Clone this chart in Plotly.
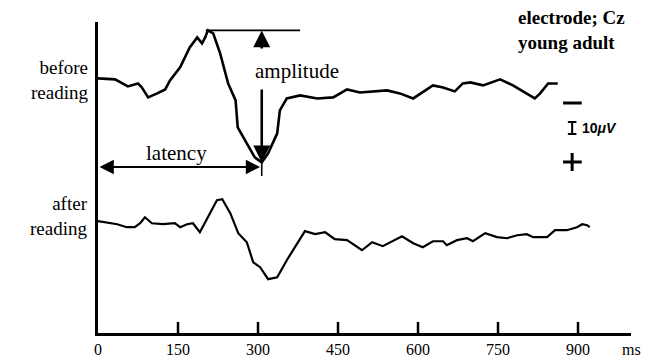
import plotly.graph_objects as go

# ---------------- data ----------------
# time in ms, amplitude in µV (EEG convention: negative plotted upward)
before_ms = [0, 32, 56, 75, 82, 94, 111, 126, 135, 154, 172, 186, 195, 201, 206, 216, 229,
             244, 258, 262, 279, 294, 307, 319, 336, 341, 354, 379, 411, 441, 467, 491, 542,
             566, 591, 628, 647, 669, 684, 698, 722, 754, 778, 804, 819, 829, 844, 862]
before_uv = [0, 0.8, 6.7, 4.2, 7.5, 15.8, 12.5, 9.2, 1.7, -9.2, -25.8, -34.2, -29.2, -34.2, -40, -37.5, -20.8,
             4.2, 18.3, 40.8, 54.2, 65.8, 70, 62.5, 45.8, 26.7, 16.7, 14.2, 16.7, 15.8, 9.2, 11.7, 10,
             12.5, 16.7, 5.8, 7.5, 10.8, 4.2, 3.3, 5.8, 0.8, 5.8, 12.5, 16.7, 12.5, 4.2, 4.2]

after_ms = [0, 23, 36, 54, 69, 79, 88, 101, 122, 144, 154, 167, 178, 191, 206, 223, 233, 248,
            263, 279, 291, 304, 319, 336, 354, 373, 388, 407, 426, 444, 467, 495, 514, 534,
            570, 591, 609, 628, 647, 654, 673, 692, 703, 726, 748, 767, 786, 804, 816, 842,
            857, 879, 898, 908, 917, 922]
after_uv = [0, 1.7, 2.5, 5, 5, 1.7, -3.3, 1.7, 2.5, 1.7, 5, 2.5, 1.7, 9.2, -3.3, -17.5, -18.3, -6.7,
            10, 17.5, 34.2, 38.3, 48.3, 46.7, 32.5, 18.3, 8.3, 10.8, 9.2, 15, 15.8, 24.2, 17.5, 20.8,
            12.5, 18.3, 21.7, 16.7, 16.7, 20, 15.8, 14.2, 16.7, 10, 13.3, 14.2, 11.7, 10.8, 13.3, 13.3,
            7.5, 7.5, 5, 2.5, 3.3, 5]

tick_vals = [0, 150, 300, 450, 600, 750, 900]
tick_text = ["0", "150", "300", "450", "600", "750", "900"]
scale_uv = 10

# ---------------- layout constants ----------------
W, H = 647, 359
ML, MR, MT, MB = 98, 16, 22, 26
PW, PH = W - ML - MR, H - MT - MB
PX_PER_UV = 1.2
Y_SPAN = PH / PX_PER_UV
BEFORE_OFF = 47
AFTER_OFF = 166
SERIF = "Liberation Serif"
TICK_LEN_PX = 11


def uv_at_px(py):
    return (py - MT) / PX_PER_UV


def px2x(px):
    return (px - ML) / PW


def px2y(py):
    return (H - MB - py) / PH


before_y = [BEFORE_OFF + v for v in before_uv]
after_y = [AFTER_OFF + v for v in after_uv]

fig = go.Figure()
fig.add_trace(go.Scatter(x=before_ms, y=before_y, mode="lines",
                         line=dict(color="black", width=2.6), hoverinfo="skip"))
fig.add_trace(go.Scatter(x=after_ms, y=after_y, mode="lines",
                         line=dict(color="black", width=2.2), hoverinfo="skip"))

# peak / trough of the "before" trace
i_peak = before_uv.index(min(before_uv))
i_trough = before_uv.index(max(before_uv))
peak_ms, peak_y = before_ms[i_peak], before_y[i_peak]
trough_ms, trough_y = before_ms[i_trough], before_y[i_trough]

shapes = []
# inward x-axis tick marks
for tv in tick_vals[1:]:
    shapes.append(dict(type="line", xref="x", yref="y", x0=tv, x1=tv,
                       y0=Y_SPAN, y1=Y_SPAN - TICK_LEN_PX / PX_PER_UV,
                       line=dict(color="black", width=2.5), layer="above"))
shapes.append(dict(type="line", xref="x", yref="y", x0=peak_ms - 4, x1=peak_ms + 173,
                   y0=peak_y, y1=peak_y, line=dict(color="black", width=1.6)))
shapes.append(dict(type="line", xref="x", yref="y", x0=trough_ms, x1=trough_ms,
                   y0=trough_y, y1=uv_at_px(176), line=dict(color="black", width=1.6)))
# scale bar (10 µV)
sb_x = 889
sb_y0 = uv_at_px(122)
sb_y1 = sb_y0 + scale_uv
shapes.append(dict(type="line", xref="x", yref="y", x0=sb_x, x1=sb_x, y0=sb_y0, y1=sb_y1,
                   line=dict(color="black", width=2)))
for yy in (sb_y0, sb_y1):
    shapes.append(dict(type="line", xref="x", yref="y", x0=sb_x - 8, x1=sb_x + 8, y0=yy, y1=yy,
                       line=dict(color="black", width=2)))
shapes.append(dict(type="line", xref="x", yref="y", x0=sb_x - 17, x1=sb_x + 18,
                   y0=uv_at_px(103), y1=uv_at_px(103), line=dict(color="black", width=3)))
shapes.append(dict(type="line", xref="x", yref="y", x0=sb_x - 17, x1=sb_x + 18,
                   y0=uv_at_px(162), y1=uv_at_px(162), line=dict(color="black", width=3)))
shapes.append(dict(type="line", xref="x", yref="y", x0=sb_x, x1=sb_x,
                   y0=uv_at_px(153), y1=uv_at_px(171), line=dict(color="black", width=3)))

ann = []
ann.append(dict(x=trough_ms, y=peak_y, ax=trough_ms, ay=uv_at_px(50), xref="x", yref="y",
                axref="x", ayref="y", text="", showarrow=True, arrowhead=2, arrowsize=1.3,
                arrowwidth=2.6, arrowcolor="black", standoff=0))
ann.append(dict(x=trough_ms, y=trough_y, ax=trough_ms, ay=uv_at_px(88), xref="x", yref="y",
                axref="x", ayref="y", text="", showarrow=True, arrowhead=2, arrowsize=1.3,
                arrowwidth=2.6, arrowcolor="black", standoff=0))
lat_y = uv_at_px(167)
ann.append(dict(x=trough_ms - 3, y=lat_y, ax=0, ay=lat_y, xref="x", yref="y",
                axref="x", ayref="y", text="", showarrow=True, arrowhead=2, startarrowhead=2,
                arrowside="end+start", arrowsize=1.3, startarrowsize=1.3,
                arrowwidth=2.2, arrowcolor="black", standoff=0, startstandoff=0))

ann.append(dict(x=px2x(297), y=px2y(71), xref="paper", yref="paper", text="amplitude",
                showarrow=False, xanchor="center", yanchor="middle",
                font=dict(family=SERIF, size=21, color="black")))
ann.append(dict(x=px2x(176), y=px2y(153), xref="paper", yref="paper", text="latency",
                showarrow=False, xanchor="center", yanchor="middle",
                font=dict(family=SERIF, size=21, color="black")))

for txt, py in (("before<br>reading", 80), ("after<br>reading", 216)):
    ann.append(dict(x=px2x(90), y=px2y(py), xref="paper", yref="paper", text=txt,
                    showarrow=False, xanchor="right", yanchor="middle", align="right",
                    font=dict(family=SERIF, size=19, color="black")))

ann.append(dict(x=px2x(516), y=px2y(30), xref="paper", yref="paper",
                text="<b>electrode; Cz<br>young adult</b>", align="left",
                showarrow=False, xanchor="left", yanchor="middle",
                font=dict(family=SERIF, size=19, color="black")))
ann.append(dict(x=sb_x + 14, y=(sb_y0 + sb_y1) / 2, xref="x", yref="y", text="<b>10<i>μV</i></b>",
                showarrow=False, xanchor="left", yanchor="middle",
                font=dict(family="Liberation Sans", size=14, color="black")))
ann.append(dict(x=px2x(631), y=px2y(349), xref="paper", yref="paper", text="ms",
                showarrow=False, xanchor="center", yanchor="middle",
                font=dict(family=SERIF, size=16, color="black")))
# tick labels placed below the axis
for tv, tt in zip(tick_vals, tick_text):
    ann.append(dict(x=tv, y=px2y(349), xref="x", yref="paper", text=tt, showarrow=False,
                    xanchor="center", yanchor="middle",
                    font=dict(family=SERIF, size=16, color="black")))

fig.update_layout(
    width=W, height=H,
    margin=dict(l=ML, r=MR, t=MT, b=MB, autoexpand=False),
    paper_bgcolor="white", plot_bgcolor="white",
    showlegend=False,
    shapes=shapes, annotations=ann,
    xaxis=dict(range=[0, PW / (80 / 150)], showgrid=False, zeroline=False,
               showline=True, linecolor="black", linewidth=3, automargin=False,
               ticks="", showticklabels=False),
    yaxis=dict(range=[Y_SPAN, 0], showgrid=False, zeroline=False, automargin=False,
               showline=True, linecolor="black", linewidth=3,
               showticklabels=False, ticks=""),
)

fig.write_html("out.html")
